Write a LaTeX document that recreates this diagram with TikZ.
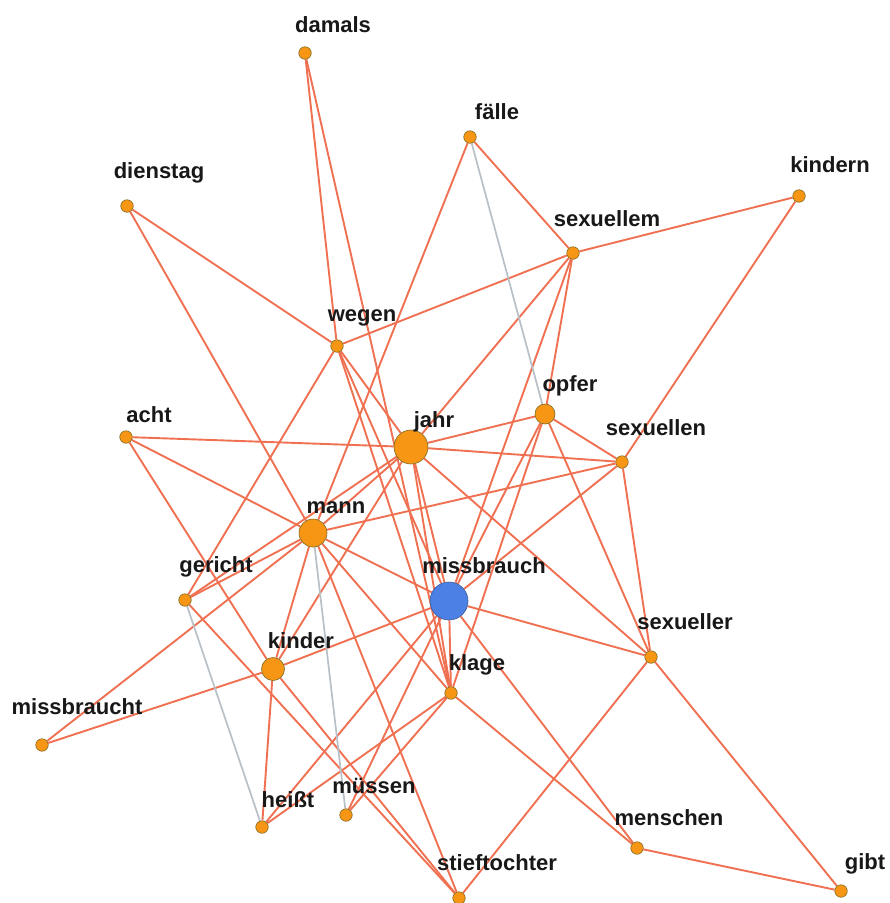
\documentclass[tikz,border=0pt]{standalone}
\usepackage{fontspec}
\setmainfont{Liberation Sans}
\pgfdeclarelayer{edges}
\pgfsetlayers{edges,main}
\definecolor{edgecol}{RGB}{240,112,82}
\definecolor{weakcol}{RGB}{184,192,200}
\definecolor{wordfill}{RGB}{246,150,20}
\definecolor{wordrim}{RGB}{125,105,35}
\definecolor{hubfill}{RGB}{76,128,228}
\definecolor{hubrim}{RGB}{60,92,150}
\definecolor{labelcol}{RGB}{24,24,24}
\begin{document}
\begin{tikzpicture}[x=1pt,y=-1pt,
  word/.style={circle,fill=wordfill,draw=wordrim,line width=0.6pt,inner sep=0pt,minimum size=#1},
  word/.default=12.5pt,
  hub/.style={circle,fill=hubfill,draw=hubrim,line width=0.6pt,inner sep=0pt,minimum size=38pt},
  lbl/.style={font=\bfseries\fontsize{22}{22}\selectfont,text=labelcol,inner sep=0pt},
  link/.style={draw=edgecol,line width=1.9pt},
  weak/.style={draw=weakcol,line width=1.7pt}]
\useasboundingbox (0,0) rectangle (890,903);

% word nodes
\node[word] (damals) at (305,53) {};
\node[word] (faelle) at (470,137) {};
\node[word] (dienstag) at (127,206) {};
\node[word] (kindern) at (799,196) {};
\node[word] (sexuellem) at (573,253) {};
\node[word] (wegen) at (337,346) {};
\node[word] (acht) at (126,437) {};
\node[word=34pt] (jahr) at (411,447) {};
\node[word=28pt] (mann) at (313,533) {};
\node[word=20pt] (opfer) at (545,414) {};
\node[word] (sexuellen) at (622,462) {};
\node[hub] (missbrauch) at (449,601) {};
\node[word] (gericht) at (185,600) {};
\node[word=23pt] (kinder) at (273,669) {};
\node[word] (missbraucht) at (42,745) {};
\node[word] (heisst) at (262,827) {};
\node[word] (muessen) at (346,815) {};
\node[word] (sexueller) at (651,657) {};
\node[word] (klage) at (451,693) {};
\node[word] (menschen) at (637,848) {};
\node[word] (stieftochter) at (459,898) {};
\node[word] (gibt) at (841,891) {};

% connectors, kept underneath the nodes
\begin{pgfonlayer}{edges}
\fill[white] (0,0) rectangle (890,903);
\draw[link] (damals) -- (wegen);
\draw[link] (damals) -- (klage);
\draw[link] (dienstag) -- (wegen);
\draw[link] (dienstag) -- (mann);
\draw[link] (faelle) -- (sexuellem);
\draw[link] (faelle) -- (mann);
\draw[link] (kindern) -- (sexuellem);
\draw[link] (kindern) -- (sexuellen);
\draw[link] (sexuellem) -- (wegen);
\draw[link] (sexuellem) -- (jahr);
\draw[link] (sexuellem) -- (missbrauch);
\draw[link] (sexuellem) -- (opfer);
\draw[link] (wegen) -- (gericht);
\draw[link] (wegen) -- (jahr);
\draw[link] (wegen) -- (missbrauch);
\draw[link] (wegen) -- (klage);
\draw[link] (acht) -- (jahr);
\draw[link] (acht) -- (mann);
\draw[link] (acht) -- (kinder);
\draw[link] (jahr) -- (opfer);
\draw[link] (jahr) -- (sexuellen);
\draw[link] (jahr) -- (mann);
\draw[link] (jahr) -- (missbrauch);
\draw[link] (jahr) -- (klage);
\draw[link] (jahr) -- (kinder);
\draw[link] (jahr) -- (gericht);
\draw[link] (jahr) -- (sexueller);
\draw[link] (opfer) -- (sexuellen);
\draw[link] (opfer) -- (missbrauch);
\draw[link] (opfer) -- (klage);
\draw[link] (opfer) -- (sexueller);
\draw[link] (sexuellen) -- (sexueller);
\draw[link] (sexuellen) -- (missbrauch);
\draw[link] (sexuellen) -- (mann);
\draw[link] (mann) -- (missbrauch);
\draw[link] (mann) -- (kinder);
\draw[link] (mann) -- (gericht);
\draw[link] (mann) -- (klage);
\draw[link] (mann) -- (stieftochter);
\draw[link] (mann) -- (missbraucht);
\draw[link] (missbrauch) -- (kinder);
\draw[link] (missbrauch) -- (sexueller);
\draw[link] (missbrauch) -- (menschen);
\draw[link] (missbrauch) -- (klage);
\draw[link] (missbrauch) -- (heisst);
\draw[link] (missbrauch) -- (muessen);
\draw[link] (gericht) -- (stieftochter);
\draw[link] (kinder) -- (missbraucht);
\draw[link] (kinder) -- (heisst);
\draw[link] (kinder) -- (stieftochter);
\draw[link] (klage) -- (heisst);
\draw[link] (klage) -- (muessen);
\draw[link] (klage) -- (menschen);
\draw[link] (sexueller) -- (stieftochter);
\draw[link] (sexueller) -- (gibt);
\draw[link] (menschen) -- (gibt);
\draw[weak] (faelle) -- (opfer);
\draw[weak] (mann) -- (muessen);
\draw[weak] (gericht) -- (heisst);
\end{pgfonlayer}

% labels
\node[lbl] (t-damals) at (333,25) {damals};
\node[lbl] (t-faelle) at (497,112) {fälle};
\node[lbl] (t-dienstag) at (159,173) {dienstag};
\node[lbl] (t-kindern) at (830,165) {kindern};
\node[lbl] (t-sexuellem) at (607,219) {sexuellem};
\node[lbl] (t-wegen) at (362,318) {wegen};
\node[lbl] (t-acht) at (149,415) {acht};
\node[lbl] (t-jahr) at (434,422) {jahr};
\node[lbl] (t-mann) at (336,508) {mann};
\node[lbl] (t-opfer) at (570,386) {opfer};
\node[lbl] (t-sexuellen) at (656,428) {sexuellen};
\node[lbl] (t-missbrauch) at (484,566) {missbrauch};
\node[lbl] (t-gericht) at (216,567) {gericht};
\node[lbl] (t-sexueller) at (685,622) {sexueller};
\node[lbl] (t-klage) at (477,665) {klage};
\node[lbl] (t-kinder) at (301,641) {kinder};
\node[lbl] (t-missbraucht) at (77,707) {missbraucht};
\node[lbl] (t-heisst) at (288,800) {heißt};
\node[lbl] (t-muessen) at (374,786) {müssen};
\node[lbl] (t-menschen) at (669,818) {menschen};
\node[lbl] (t-stieftochter) at (497,863) {stieftochter};
\node[lbl] (t-gibt) at (865,864) {gibt};
\end{tikzpicture}
\end{document}
